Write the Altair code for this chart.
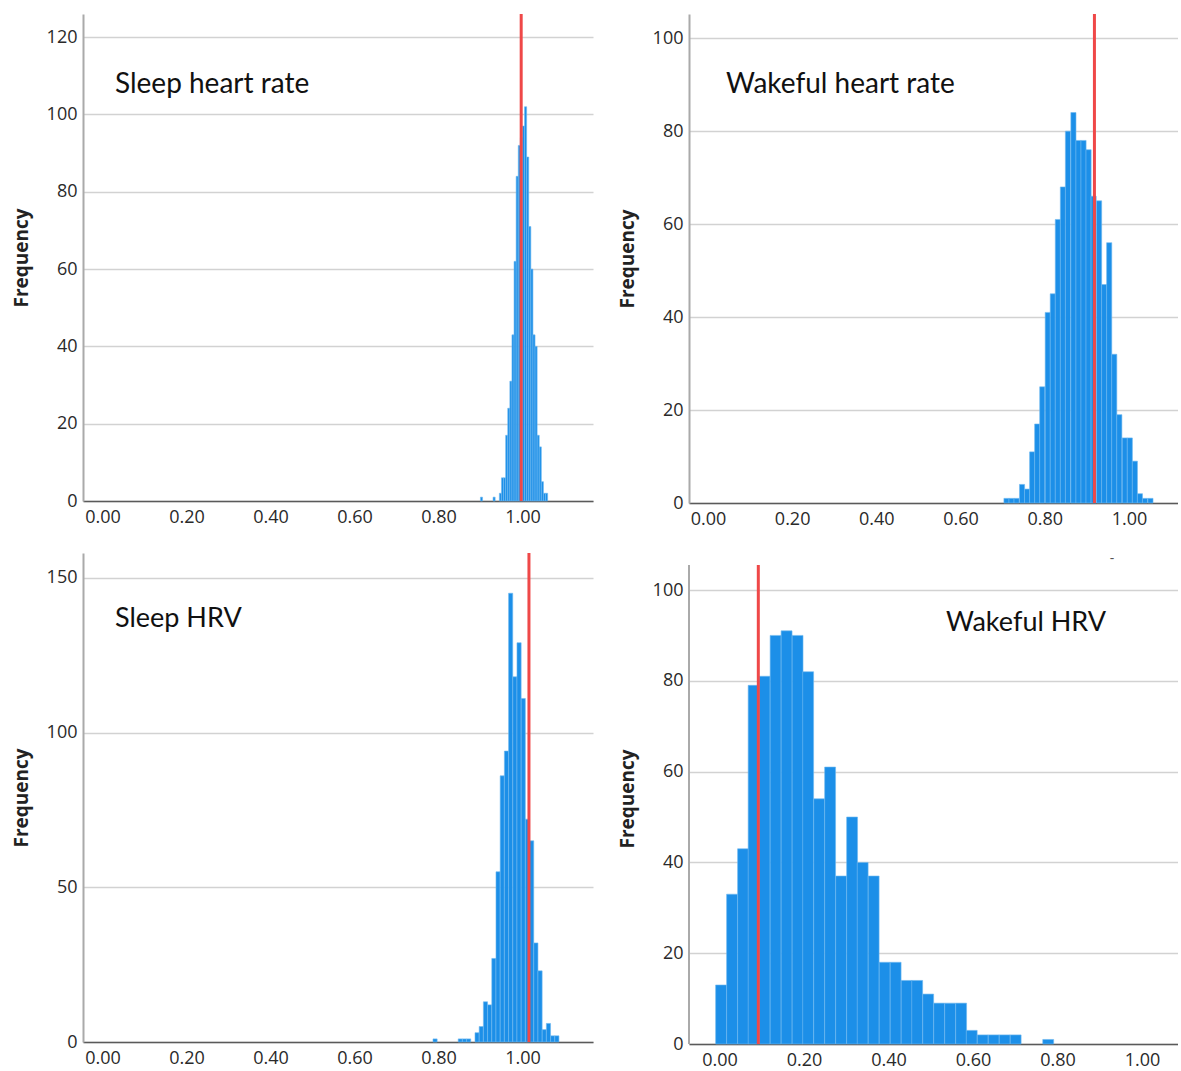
import altair as alt
import pandas as pd

# ---------------- data ----------------
# Panel 1: Sleep heart rate
p1_starts = [0.900, 0.930, 0.945, 0.950, 0.955, 0.960, 0.965, 0.970, 0.975, 0.980,
             0.985, 0.990, 0.995, 1.000, 1.005, 1.010, 1.015, 1.020, 1.025, 1.030,
             1.035, 1.040, 1.045, 1.050, 1.055]
p1_counts = [1, 1, 2, 6, 6, 17, 24, 31, 43, 62,
             84, 92, 94, 97, 102, 89, 71, 60, 43, 40,
             17, 14, 5, 2, 2]
p1_binw = 0.005
p1_ref = 0.997

# Panel 2: Wakeful heart rate
p2_starts = [0.703, 0.715, 0.727, 0.740, 0.752, 0.764, 0.776, 0.788, 0.801, 0.813,
             0.825, 0.837, 0.849, 0.862, 0.874, 0.886, 0.898, 0.910, 0.923, 0.935,
             0.947, 0.959, 0.971, 0.984, 0.996, 1.008, 1.020, 1.032, 1.045]
p2_counts = [1, 1, 1, 4, 3, 11, 17, 25, 41, 45,
             61, 68, 80, 84, 78, 78, 76, 66, 65, 47,
             56, 32, 19, 14, 14, 9, 2, 1, 1]
p2_binw = 0.0122
p2_ref = 0.918

# Panel 3: Sleep HRV
p3_starts = [0.787, 0.847, 0.857, 0.867, 0.887, 0.897, 0.907, 0.917, 0.927, 0.937,
             0.947, 0.957, 0.967, 0.977, 0.987, 0.997, 1.007, 1.017, 1.027, 1.037,
             1.047, 1.057, 1.067, 1.077]
p3_counts = [1, 1, 1, 1, 3, 5, 13, 12, 27, 55,
             86, 94, 145, 118, 129, 111, 72, 65, 32, 23,
             4, 6, 2, 2]
p3_binw = 0.0099
p3_ref = 1.0155

# Panel 4: Wakeful HRV
p4_starts = [-0.009, 0.017, 0.043, 0.068, 0.094, 0.120, 0.146, 0.172, 0.197, 0.223,
             0.249, 0.275, 0.301, 0.326, 0.352, 0.378, 0.404, 0.430, 0.455, 0.481,
             0.507, 0.533, 0.559, 0.584, 0.610, 0.636, 0.662, 0.688, 0.765]
p4_counts = [13, 33, 43, 79, 81, 90, 91, 90, 82, 54,
             61, 37, 50, 40, 37, 18, 18, 14, 14, 11,
             9, 9, 9, 3, 2, 2, 2, 2, 1]
p4_binw = 0.0258
p4_ref = 0.092

x_ticks = [0.0, 0.2, 0.4, 0.6, 0.8, 1.0]

BAR = "#1c8fe8"
BAR_EDGE = "#6fb9f0"
RED = "#ef4848"
YAXIS = "#aaaaaa"
LABEL_FONT = "Open Sans"
NOTE_FONT = "Lato"


def panel(starts, counts, binw, ref, label, xdom, ydom, yticks, w, h,
          note_x, note_y, note_size=28, top_gap=0, dash=None):
    df = pd.DataFrame({"start": starts, "count": counts})
    df["end"] = df["start"] + binw
    df["zero"] = 0

    xs = alt.Scale(domain=xdom, nice=False, zero=False)
    ys = alt.Scale(domain=ydom, nice=False)

    bars = alt.Chart(df).mark_bar(
        color=BAR, stroke=BAR_EDGE, strokeWidth=0.6
    ).encode(
        x=alt.X("start:Q", scale=xs,
                axis=alt.Axis(values=x_ticks, format=".2f", title=None,
                              grid=False, ticks=False, domainColor="#5a5a5a",
                              domainWidth=1.5, labelPadding=7,
                              labelFlush=False)),
        x2="end:Q",
        y=alt.Y("count:Q", scale=ys,
                axis=alt.Axis(values=yticks, title="Frequency", grid=True,
                              gridColor="#d2d2d2", gridWidth=1.5,
                              domain=(top_gap == 0),
                              domainColor=YAXIS, domainWidth=2,
                              ticks=False, labelPadding=6, titlePadding=15)),
        y2="zero:Q",
    )

    layers = [bars]
    if top_gap > 0:
        # y axis line that starts a little below the top of the panel
        axis_line = alt.Chart(pd.DataFrame({"ref": [xdom[0]]})).mark_rule(
            color=YAXIS, strokeWidth=2
        ).encode(x=alt.X("ref:Q", scale=xs), y=alt.value(top_gap),
                 y2=alt.value(h))
        layers.append(axis_line)
        rule = alt.Chart(pd.DataFrame({"ref": [ref]})).mark_rule(
            color=RED, strokeWidth=3
        ).encode(x=alt.X("ref:Q", scale=xs), y=alt.value(top_gap),
                 y2=alt.value(h))
    else:
        rule = alt.Chart(pd.DataFrame({"ref": [ref]})).mark_rule(
            color=RED, strokeWidth=3
        ).encode(x=alt.X("ref:Q", scale=xs))
    layers.append(rule)

    note = alt.Chart(pd.DataFrame({"t": [label]})).mark_text(
        align="left", baseline="middle", font=NOTE_FONT, fontSize=note_size,
        color="#111111"
    ).encode(text="t:N", x=alt.value(note_x), y=alt.value(note_y))
    layers.append(note)

    if dash is not None:
        d = alt.Chart(pd.DataFrame({"t": ["-"]})).mark_text(
            align="center", baseline="middle", font=LABEL_FONT, fontSize=14,
            color="#555555"
        ).encode(text="t:N", x=alt.value(dash[0]), y=alt.value(dash[1]))
        layers.append(d)

    return alt.layer(*layers).properties(width=w, height=h)


p1 = panel(p1_starts, p1_counts, p1_binw, p1_ref, "Sleep heart rate",
           [-0.0464, 1.168], [0, 126.0], [0, 20, 40, 60, 80, 100, 120],
           510, 487, 32, 71)
p2 = panel(p2_starts, p2_counts, p2_binw, p2_ref, "Wakeful heart rate",
           [-0.045, 1.1165], [0, 105.2], [0, 20, 40, 60, 80, 100],
           489, 489, 37, 71)
p3 = panel(p3_starts, p3_counts, p3_binw, p3_ref, "Sleep HRV",
           [-0.0464, 1.168], [0, 158.0], [0, 50, 100, 150],
           510, 489, 32, 66, note_size=27)
p4 = panel(p4_starts, p4_counts, p4_binw, p4_ref, "Wakeful HRV",
           [-0.072, 1.085], [0, 108.15], [0, 20, 40, 60, 80, 100],
           489, 491, 257, 70, note_size=27, top_gap=12, dash=(423, 6))

top = alt.hconcat(p1, p2, spacing=25)
bottom = alt.hconcat(p3, p4, spacing=25)

chart = alt.vconcat(top, bottom, spacing=23).properties(
    padding={"left": 12, "top": 12, "right": 0, "bottom": 0},
    background="white",
).configure_view(stroke=None).configure_axis(
    labelFont=LABEL_FONT, labelFontSize=18, labelColor="#2a2a2a",
    titleFont=LABEL_FONT, titleFontSize=19, titleFontWeight="bold",
    titleColor="#222222",
)

chart.save("out.html", embed_options={"renderer": "svg", "actions": False})
